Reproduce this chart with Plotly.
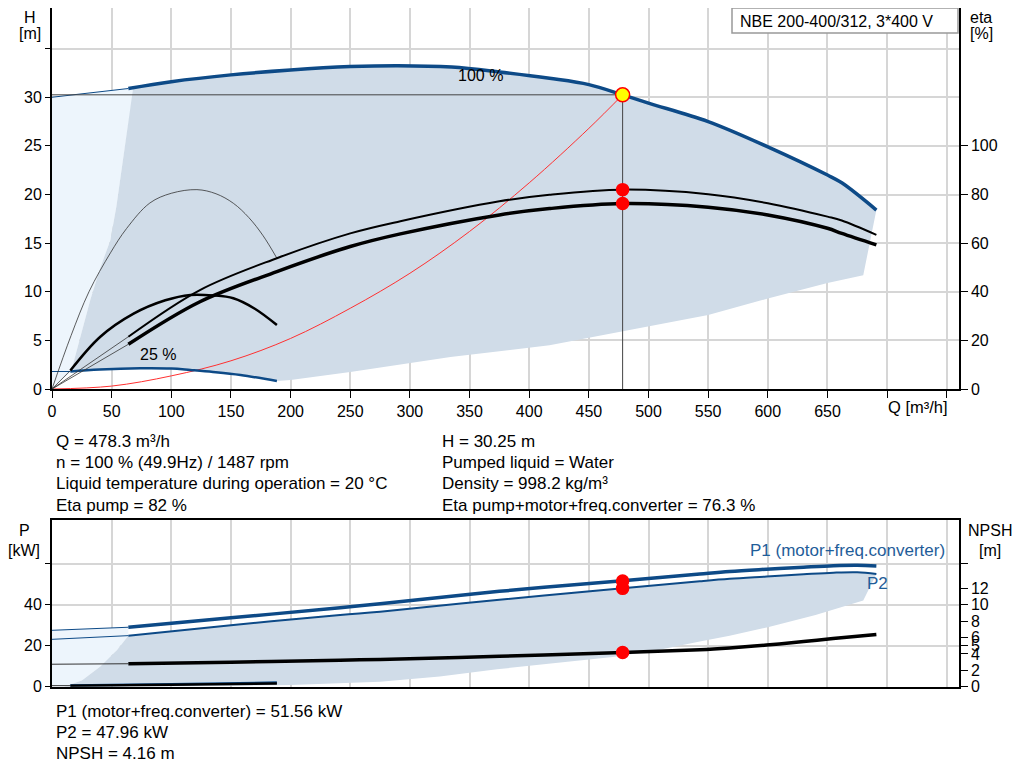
import plotly.graph_objects as go

# ---- values ----
q_ticks = [0, 50, 100, 150, 200, 250, 300, 350, 400, 450, 500, 550, 600, 650, 700, 750]
q_labels = ["0", "50", "100", "150", "200", "250", "300", "350", "400", "450",
            "500", "550", "600", "650", "", ""]

# head at 100 % speed
q_h100 = [64, 100, 150, 200, 250, 290, 335, 375, 417, 450, 478.3, 500, 550, 600, 650, 662, 691]
h_h100 = [30.9, 31.6, 32.3, 32.8, 33.15, 33.25, 33.1, 32.6, 31.95, 31.3, 30.25, 29.4, 27.5,
          24.9, 22.0, 21.2, 18.4]
q_h100_ext = [0, 64]
h_h100_ext = [30.0, 30.9]

# head at 25 % speed
q_h25 = [15.4, 40, 74, 100, 116, 135, 158, 188.5]
h_h25 = [1.8, 2.0, 2.13, 2.1, 1.95, 1.75, 1.44, 0.82]
q_h25_ext = [0, 15.4]
h_h25_ext = [1.8, 1.8]

# system curve
q_sys = [0, 50, 100, 150, 200, 250, 300, 350, 400, 450, 478.3]
h_sys = [0, 0.3, 1.35, 2.9, 5.2, 8.3, 11.9, 16.2, 21.2, 26.8, 30.25]

# efficiencies at 100 % speed
q_eta100 = [64, 124, 188.5, 250, 292, 375, 417, 478.3, 550, 600, 650, 662, 691]
eta_pump100 = [21.5, 40.7, 53.8, 64.0, 69.0, 77.2, 79.9, 82.0, 80.1, 76.4, 70.9, 69.3, 63.4]
eta_tot100 = [18.4, 35.9, 48.3, 58.6, 63.8, 71.6, 74.2, 76.3, 74.8, 71.6, 66.1, 64.0, 59.3]

# efficiencies at 25 % speed
q_eta_pump25 = [0, 16, 31, 49, 62.5, 82, 100, 121.5, 137.5, 152, 165, 177, 188.5]
eta_pump25 = [0, 22, 40, 56, 66, 76.5, 80.5, 82, 80.3, 76.4, 70.5, 63, 53.8]
q_eta_tot25 = [15.4, 40.5, 68.4, 95, 116, 135, 152, 170, 188.5]
eta_tot25 = [7.6, 21.5, 31.0, 36.5, 38.7, 38.5, 37.3, 33, 26.3]

# operating range (shaded) in the H chart
area_q = [16, 21, 26.5, 32.2, 40, 48.9, 54, 58.7, 63, 67, 68,
          100, 150, 200, 250, 290, 335, 375, 417, 450, 478.3, 500, 550, 600, 650, 662, 691,
          680, 650, 600, 550, 478, 417, 334, 250, 200, 188.5,
          158, 135, 116, 100, 74, 40, 16]
area_h = [1.8, 4.0, 6.5, 9.2, 12.3, 15.3, 18.8, 22.9, 26.5, 29.7, 30.95,
          31.6, 32.3, 32.8, 33.15, 33.25, 33.1, 32.6, 31.95, 31.3, 30.25, 29.4, 27.5, 24.9, 22.0,
          21.2, 18.4,
          11.7, 10.9, 9.3, 7.6, 5.9, 4.5, 3.3, 1.75, 0.93, 0.82,
          1.44, 1.75, 1.95, 2.1, 2.13, 2.0, 1.8]
light_q = [0, 0, 68, 67, 63, 58.7, 54, 48.9, 40, 32.2, 26.5, 21, 16]
light_h = [0, 30.0, 30.95, 29.7, 26.5, 22.9, 18.8, 15.3, 12.3, 9.2, 6.5, 4.0, 1.8]

# duty point
q_duty = 478.3
h_duty = 30.25
eta_pump_duty = 82
eta_tot_duty = 76.3
p1_duty = 51.56
p2_duty = 47.96
npsh_duty = 4.16

# power chart
q_p = [64, 150, 241.5, 275, 375, 478.3, 543, 568, 599, 630, 655, 675, 691]
p1 = [29.0, 33.6, 38.5, 40.5, 46.5, 51.7, 55.0, 56.2, 57.3, 58.3, 59.0, 59.2, 58.9]
p2 = [24.9, 30.0, 35.0, 36.6, 42.4, 47.96, 51.4, 52.6, 53.7, 54.8, 55.6, 55.8, 55.0]
q_p_ext = [0, 64]
p1_ext = [27.5, 29.0]
p2_ext = [23.1, 24.9]
q_p25 = [15.4, 100, 188.5]
p1_25 = [0.6, 1.15, 2.0]
p2_25 = [0.5, 0.95, 1.6]

q_npsh = [64, 150, 241.5, 275, 375, 478.3, 543, 568, 599, 630, 654.7, 691]
npsh = [2.8, 2.98, 3.23, 3.32, 3.7, 4.16, 4.5, 4.72, 5.08, 5.5, 5.88, 6.37]
q_npsh_ext = [0, 64]
npsh_ext = [2.74, 2.8]

parea_q = [9.8, 25, 40.5, 54.5, 64, 150, 241.5, 275, 375, 478.3, 543, 568, 599, 630, 655, 675,
           691, 680, 640, 600, 568, 543, 505, 470, 420, 373, 325, 275, 200, 150, 100, 9.8]
parea_p = [0, 3, 9.8, 17.9, 24.9, 30.0, 35.0, 36.6, 42.4, 47.96, 51.4, 52.6, 53.7, 54.8, 55.6,
           55.8, 55.0, 42, 35, 29, 24.8, 22, 17.5, 14.5, 11.5, 8.5, 5, 2.4, 0.8, 0.3, 0.1, 0]
plight_q = [0, 0, 64, 64, 54.5, 40.5, 25, 9.8]
plight_p = [0, 27.5, 29.0, 24.9, 17.9, 9.8, 3, 0]

BLUE = "#0d4a87"
FILL = "#d0dce8"
LIGHT = "#edf5fc"
GRID = "#d6d6d6"
FONT = "Liberation Sans, Arial, sans-serif"
W, H = 1024, 781
OFF = 8  # the page body adds an 8 px margin, so positions are shifted back by it


def px(x):
    return (x - OFF) / W


def py(y):
    return 1 - (y - OFF) / H


fig = go.Figure()


def line(q, v, color, width, xa="x", ya="y", shape="spline"):
    fig.add_trace(go.Scatter(x=q, y=v, mode="lines", xaxis=xa, yaxis=ya,
                             line=dict(color=color, width=width, shape=shape),
                             hoverinfo="skip", showlegend=False))


def area(q, v, color, xa="x", ya="y"):
    fig.add_trace(go.Scatter(x=q, y=v, mode="lines", fill="toself", fillcolor=color,
                             xaxis=xa, yaxis=ya, line=dict(width=0),
                             hoverinfo="skip", showlegend=False))


def dot(q, v, xa, ya, fill="#ff0000", size=12, outline="#ff0000"):
    fig.add_trace(go.Scatter(x=[q], y=[v], mode="markers", xaxis=xa, yaxis=ya,
                             marker=dict(color=fill, size=size,
                                         line=dict(color=outline, width=1.5)),
                             hoverinfo="skip", showlegend=False))


# ---- H / eta chart ----
area(light_q, light_h, LIGHT)
area(area_q, area_h, FILL)
line(q_sys, h_sys, "#ff3030", 1, shape="spline")
line(q_h100_ext, h_h100_ext, BLUE, 1)
line(q_h100, h_h100, BLUE, 3.5)
line(q_h25_ext, h_h25_ext, BLUE, 1)
line(q_h25, h_h25, BLUE, 2.5)
line([q_duty, q_duty], [0, h_duty], "#444444", 1, shape="linear")
line([0, q_duty], [h_duty, h_duty], "#444444", 1, shape="linear")
dot(q_duty, h_duty, "x", "y", fill="#ffff00", size=14)

line([0, q_eta100[0]], [0, eta_pump100[0]], "#333333", 0.8, ya="y2", shape="linear")
line([0, q_eta100[0]], [0, eta_tot100[0]], "#333333", 0.8, ya="y2", shape="linear")
line([0, q_eta_tot25[0]], [0, eta_tot25[0]], "#333333", 0.8, ya="y2", shape="linear")
line(q_eta_pump25, eta_pump25, "#333333", 0.8, ya="y2")
line(q_eta_tot25, eta_tot25, "black", 2.5, ya="y2")
line(q_eta100, eta_pump100, "black", 2, ya="y2")
line(q_eta100, eta_tot100, "black", 3.5, ya="y2")
dot(q_duty, eta_pump_duty, "x", "y2")
dot(q_duty, eta_tot_duty, "x", "y2")

# ---- P / NPSH chart ----
area(plight_q, plight_p, LIGHT, "x2", "y3")
area(parea_q, parea_p, FILL, "x2", "y3")
line(q_p_ext, p1_ext, BLUE, 1, "x2", "y3")
line(q_p_ext, p2_ext, BLUE, 1, "x2", "y3")
line(q_p, p1, BLUE, 3.5, "x2", "y3")
line(q_p, p2, BLUE, 2, "x2", "y3")
line([0, q_p25[0]], [p2_25[0], p2_25[0]], "#333333", 1, "x2", "y3", shape="linear")
line(q_p25, p1_25, BLUE, 2.5, "x2", "y3")
line(q_p25, p2_25, "black", 2.5, "x2", "y3")
dot(q_duty, p1_duty, "x2", "y3")
dot(q_duty, p2_duty, "x2", "y3")
line(q_npsh_ext, npsh_ext, "#333333", 1, "x2", "y4")
line(q_npsh, npsh, "black", 3.5, "x2", "y4")
dot(q_duty, npsh_duty, "x2", "y4")

# top plot area runs from y=0 to y=389 in the reference (H 0..40);
# the first 8 px are hidden by the page margin, so the range is cut accordingly
h_top = 40 * (389 - OFF) / 389
xdom = [px(52), px(958.7)]
axis_common = dict(showline=True, linecolor="black", linewidth=2, ticks="outside",
                   tickcolor="black", zeroline=False, automargin=False,
                   tickfont=dict(size=16, color="black"))

fig.update_layout(
    width=W, height=H,
    margin=dict(l=0, r=0, t=0, b=0, autoexpand=False),
    paper_bgcolor="white", plot_bgcolor="white",
    font=dict(family=FONT, size=15, color="black"),
    showlegend=False,
    xaxis=dict(domain=xdom, range=[0, 760], anchor="y", tickvals=q_ticks, ticktext=q_labels,
               showgrid=True, gridcolor=GRID, gridwidth=1.5, ticklen=7, **axis_common),
    yaxis=dict(domain=[py(389), 1], range=[0, h_top], anchor="x",
               tickvals=[0, 5, 10, 15, 20, 25, 30, 35],
               ticktext=["0", "5", "10", "15", "20", "25", "30", ""],
               showgrid=True, gridcolor=GRID, gridwidth=1.5, ticklen=5, **axis_common),
    yaxis2=dict(overlaying="y", side="right", anchor="x", range=[0, 4 * h_top],
                tickvals=[0, 20, 40, 60, 80, 100], showgrid=False, ticklen=7, **axis_common),
    xaxis2=dict(domain=xdom, range=[0, 760], anchor="y3", tickvals=q_ticks,
                showticklabels=False, showgrid=True, gridcolor=GRID, gridwidth=1.5,
                showline=True, mirror=True, linecolor="black", linewidth=1.5, zeroline=False,
                automargin=False),
    yaxis3=dict(domain=[py(686.7), py(520)], range=[0, 81.3], anchor="x2",
                tickvals=[0, 20, 40, 60], ticktext=["0", "20", "40", ""],
                showgrid=True, gridcolor=GRID, gridwidth=1.5, ticklen=5, **axis_common),
    yaxis4=dict(overlaying="y3", side="right", anchor="x2", range=[0, 20.33],
                tickvals=[0, 2, 4, 5, 6, 8, 10, 12, 15],
                ticktext=["0", "2", "4", "5", "6", "8", "10", "12", ""],
                showgrid=False, ticklen=7, **axis_common),
)

# model label box
fig.add_shape(type="rect", xref="paper", yref="paper", x0=px(732), x1=px(958),
              y0=py(33), y1=1, line=dict(color="#999999", width=1.5),
              fillcolor="white", layer="above")


def label(x, y, text, anchor="left", size=17, color="black"):
    fig.add_annotation(x=px(x), y=py(y), xref="paper", yref="paper", text=text,
                       showarrow=False, xanchor=anchor, yanchor="middle",
                       font=dict(size=size, color=color, family=FONT))


label(738, 21, "NBE 200-400/312, 3*400 V", size=16)
label(30, 17, "H", "center", 16)
label(30, 33, "[m]", "center", 16)
label(981, 17, "eta", "center", 16)
label(981, 33, "[%]", "center", 16)
label(918, 407, "Q [m³/h]", "center", 16.5)
label(480, 76, "100 %", "center", 16)
label(158, 354, "25 %", "center", 16)

label(54, 441, "Q = 478.3 m³/h")
label(54, 462, "n = 100 % (49.9Hz) / 1487 rpm")
label(54, 484, "Liquid temperature during operation = 20 °C")
label(54, 505, "Eta pump = 82 %")
label(440, 441, "H = 30.25 m")
label(440, 462, "Pumped liquid = Water")
label(440, 484, "Density = 998.2 kg/m³")
label(440, 505, "Eta pump+motor+freq.converter = 76.3 %")

label(24, 530, "P", "center", 16)
label(24, 550, "[kW]", "center", 16)
label(990, 530, "NPSH", "center", 16)
label(990, 550, "[m]", "center", 16)
label(947, 550, "P1 (motor+freq.converter)", "right", 17, "#1f5d99")
label(865, 583, "P2", "left", 17, "#1f5d99")

label(54, 711, "P1 (motor+freq.converter) = 51.56 kW")
label(54, 732, "P2 = 47.96 kW")
label(54, 753, "NPSH = 4.16 m")

fig.write_html("out.html")
